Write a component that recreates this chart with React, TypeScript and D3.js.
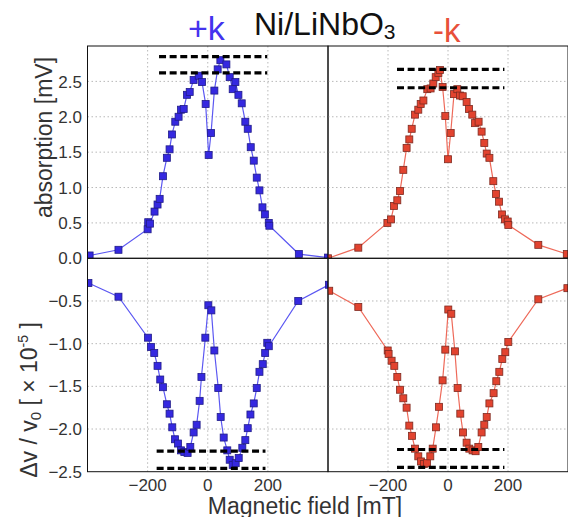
import * as d3 from "d3";

// field [mT], value
const absPlus: [number, number][] = [
  [-393, 0.04], [-297, 0.12], [-200, 0.41], [-198, 0.51], [-192, 0.49],
  [-177, 0.66], [-167, 0.76], [-160, 0.84], [-149, 1.16], [-136, 1.42],
  [-127, 1.54], [-119, 1.75], [-108, 1.93], [-97, 2.0], [-89, 2.1],
  [-80, 2.11], [-69, 2.31], [-60, 2.35], [-47, 2.52], [-30, 2.58],
  [-19, 2.49], [-7, 2.18], [3, 1.46], [11, 1.77], [22, 2.37], [33, 2.67],
  [42, 2.8], [62, 2.74], [73, 2.56], [83, 2.39], [92, 2.49], [102, 2.31],
  [113, 2.19], [125, 1.93], [133, 1.83], [143, 1.57], [153, 1.38],
  [163, 1.14], [172, 0.96], [182, 0.72], [190, 0.62], [203, 0.5],
  [205, 0.46], [303, 0.06], [400, 0.01],
];

const absMinus: [number, number][] = [
  [-400, 0.0], [-299, 0.15], [-202, 0.5], [-190, 0.55], [-180, 0.74],
  [-169, 0.82], [-160, 0.95], [-149, 1.25], [-138, 1.56], [-129, 1.68],
  [-121, 1.83], [-110, 2.03], [-99, 2.1], [-91, 2.18], [-82, 2.23],
  [-69, 2.39], [-58, 2.4], [-49, 2.47], [-41, 2.56], [-32, 2.62],
  [-27, 2.66], [-18, 2.42], [-9, 2.01], [0, 1.4], [9, 1.77], [20, 2.32],
  [31, 2.39], [40, 2.3], [49, 2.29], [62, 2.21], [70, 2.11], [81, 2.03],
  [90, 1.91], [102, 1.93], [112, 1.79], [121, 1.63], [129, 1.48],
  [138, 1.42], [151, 1.09], [160, 0.91], [170, 0.8], [180, 0.62],
  [190, 0.55], [199, 0.52], [201, 0.47], [301, 0.19], [396, 0.06],
];

const velPlus: [number, number][] = [
  [-397, -0.29], [-297, -0.45], [-199, -0.93], [-189, -1.04], [-178, -1.11],
  [-167, -1.26], [-158, -1.42], [-149, -1.51], [-136, -1.71], [-127, -1.82],
  [-118, -1.98], [-109, -2.12], [-99, -2.17], [-89, -2.25], [-78, -2.27],
  [-67, -2.28], [-58, -2.21], [-47, -2.04], [-37, -1.95], [-27, -1.67],
  [-21, -1.39], [-8, -0.93], [2, -0.55], [12, -0.61], [22, -1.08],
  [35, -1.52], [43, -1.86], [53, -2.1], [65, -2.25], [73, -2.36],
  [83, -2.42], [93, -2.4], [103, -2.34], [115, -2.22], [125, -2.13],
  [133, -1.99], [142, -1.83], [153, -1.7], [163, -1.52], [172, -1.33],
  [183, -1.24], [191, -1.11], [198, -0.99], [203, -1.03], [301, -0.5],
  [403, -0.31],
];

const velMinus: [number, number][] = [
  [-396, -0.38], [-299, -0.57], [-201, -1.08], [-198, -1.12], [-188, -1.2],
  [-179, -1.26], [-169, -1.39], [-160, -1.54], [-149, -1.64], [-138, -1.75],
  [-129, -1.96], [-120, -2.08], [-110, -2.23], [-99, -2.32], [-90, -2.38],
  [-80, -2.41], [-70, -2.4], [-59, -2.32], [-51, -2.23], [-40, -1.98],
  [-30, -1.74], [-18, -1.43], [-9, -1.07], [1, -0.6], [11, -0.65],
  [23, -1.09], [32, -1.52], [41, -1.82], [50, -2.04], [62, -2.16],
  [71, -2.23], [82, -2.25], [92, -2.26], [101, -2.21], [112, -2.04],
  [121, -1.95], [129, -1.86], [138, -1.7], [152, -1.58], [161, -1.44],
  [171, -1.33], [181, -1.18], [191, -1.1], [201, -0.98], [301, -0.48],
  [398, -0.35],
];

// dashed reference levels: [y, xStart, xEnd]
const dashAbsPlus = [[2.85, -162, 198], [2.62, -162, 198]];
const dashAbsMinus = [[2.67, -170, 188], [2.41, -170, 188]];
const dashVelPlus = [[-2.26, -170, 192], [-2.46, -170, 192]];
const dashVelMinus = [[-2.24, -170, 188], [-2.45, -170, 188]];

const xTicks = [-200, 0, 200];
const absTicks = [0, 0.5, 1.0, 1.5, 2.0, 2.5];
const velTicks = [-0.5, -1.0, -1.5, -2.0, -2.5];

const BLUE = { fill: "#3528e0", edge: "#201c88", line: "#5c58f2" };
const RED = { fill: "#e2432f", edge: "#7e2a20", line: "#ee6a5a" };
const FONT = "'Liberation Sans', Arial, Helvetica, sans-serif";

const xLeft = d3.scaleLinear().domain([-400, 400]).range([87.5, 328]);
const xRight = d3.scaleLinear().domain([-400, 400]).range([328, 568]);
const yTop = d3.scaleLinear().domain([0, 3]).range([258.3, 46]);
const yBot = d3.scaleLinear().domain([0, -2.5]).range([258.3, 471.7]);

type Sc = d3.ScaleLinear<number, number>;

function Panel({
  x, y, data, dashes, color, yGrid,
}: {
  x: Sc; y: Sc; data: [number, number][]; dashes: number[][];
  color: typeof BLUE; yGrid: number[];
}) {
  const [x0, x1] = x.range();
  const [yA, yB] = y.range();
  const top = Math.min(yA, yB), bottom = Math.max(yA, yB);
  const line = d3.line<[number, number]>().x((d) => x(d[0])).y((d) => y(d[1]));
  const clipId = `clip-${Math.round(x0)}-${Math.round(top)}`;
  const s = 7;
  return (
    <g>
      <defs>
        <clipPath id={clipId}>
          <rect x={x0} y={top} width={x1 - x0} height={bottom - top} />
        </clipPath>
      </defs>
      {xTicks.map((t) => (
        <line key={"gx" + t} x1={x(t)} x2={x(t)} y1={top} y2={bottom}
          stroke="#b8b8b8" strokeWidth={1} strokeDasharray="1.5,2.5" />
      ))}
      {yGrid.map((t) => (
        <line key={"gy" + t} x1={x0} x2={x1} y1={y(t)} y2={y(t)}
          stroke="#b8b8b8" strokeWidth={1} strokeDasharray="1.5,2.5" />
      ))}
      <g clipPath={`url(#${clipId})`}>
        <path d={line(data) || ""} fill="none" stroke={color.line} strokeWidth={1.2} />
        {data.map((d, i) => (
          <rect key={i} x={x(d[0]) - s / 2} y={y(d[1]) - s / 2} width={s} height={s}
            fill={color.fill} stroke={color.edge} strokeWidth={0.8} />
        ))}
        {dashes.map((d, i) => (
          <line key={"d" + i} x1={x(d[1])} x2={x(d[2])} y1={y(d[0])} y2={y(d[0])}
            stroke="#000" strokeWidth={3.2} strokeDasharray="7,3.6" />
        ))}
      </g>
      <rect x={x0} y={top} width={x1 - x0} height={bottom - top}
        fill="none" stroke="#111" strokeWidth={1} />
    </g>
  );
}

export default function App() {
  return (
    <svg width={568} height={517} style={{ position: "absolute", left: 0, top: 0 }}
      fontFamily={FONT}>
      <rect width={568} height={517} fill="#fff" />
      <Panel x={xLeft} y={yTop} data={absPlus} dashes={dashAbsPlus} color={BLUE}
        yGrid={absTicks.filter((t) => t > 0)} />
      <Panel x={xRight} y={yTop} data={absMinus} dashes={dashAbsMinus} color={RED}
        yGrid={absTicks.filter((t) => t > 0)} />
      <Panel x={xLeft} y={yBot} data={velPlus} dashes={dashVelPlus} color={BLUE}
        yGrid={velTicks.filter((t) => t > -2.5)} />
      <Panel x={xRight} y={yBot} data={velMinus} dashes={dashVelMinus} color={RED}
        yGrid={velTicks.filter((t) => t > -2.5)} />

      {absTicks.map((t) => (
        <text key={"ta" + t} x={82} y={yTop(t)} dy="0.36em" textAnchor="end"
          fontSize={17} fill="#333">{t.toFixed(1)}</text>
      ))}
      {velTicks.map((t) => (
        <text key={"tv" + t} x={82} y={yBot(t)} dy="0.36em" textAnchor="end"
          fontSize={17} fill="#333">{"\u2212" + Math.abs(t).toFixed(1)}</text>
      ))}
      {[xLeft, xRight].map((x, j) =>
        xTicks.map((t) => (
          <text key={"tx" + j + t} x={x(t)} y={491} textAnchor="middle"
            fontSize={17} fill="#333">{t < 0 ? "\u2212" + Math.abs(t) : String(t)}</text>
        ))
      )}

      <text transform="translate(52,137.5) rotate(-90)" textAnchor="middle"
        fontSize={23} fill="#333">absorption [mV]</text>
      <text transform="translate(37,400) rotate(-90)" textAnchor="middle"
        fontSize={23} fill="#333">
        Δv / v<tspan fontSize={15} dy={4}>0</tspan>
        <tspan dy={-4}> [ × 10</tspan>
        <tspan fontSize={14} dy={-9}>-5</tspan>
        <tspan dy={9}> ]</tspan>
      </text>
      <text x={305} y={514} textAnchor="middle" fontSize={23} fill="#333">
        Magnetic field [mT]
      </text>

      <text x={254} y={35} fontSize={32} fill="#111">
        Ni/LiNbO<tspan fontSize={21} dy={4}>3</tspan>
      </text>
      <text x={188} y={40} fontSize={34} fill="#4433ee">+k</text>
      <text x={433} y={42} fontSize={33} fill="#e8503a">-k</text>
    </svg>
  );
}
